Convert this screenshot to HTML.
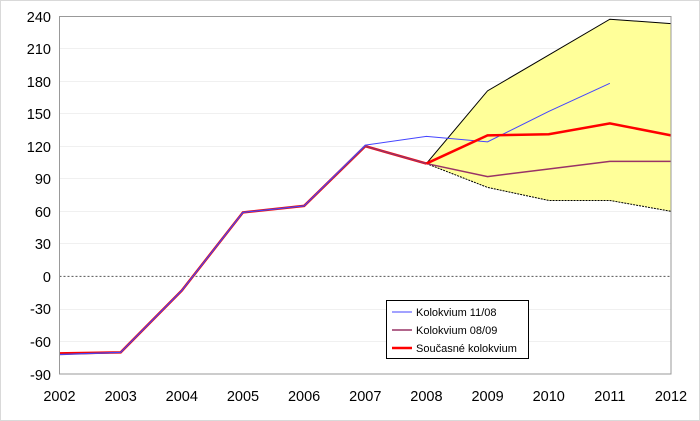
<!DOCTYPE html>
<html><head><meta charset="utf-8"><style>
html,body{margin:0;padding:0;background:#fff}
svg{display:block;font-family:"Liberation Sans",Arial,sans-serif}
</style></head><body>
<svg width="700" height="421" xmlns="http://www.w3.org/2000/svg">
<rect x="0.5" y="0.5" width="699" height="420" fill="#fff" stroke="#d9d9d9"/>
<g stroke="#f0f0f0" stroke-width="1">
<line x1="60" x2="671" y1="48.5" y2="48.5"/><line x1="60" x2="671" y1="81.5" y2="81.5"/>
<line x1="60" x2="671" y1="113.5" y2="113.5"/><line x1="60" x2="671" y1="146.5" y2="146.5"/>
<line x1="60" x2="671" y1="178.5" y2="178.5"/><line x1="60" x2="671" y1="211.5" y2="211.5"/>
<line x1="60" x2="671" y1="243.5" y2="243.5"/><line x1="60" x2="671" y1="309.5" y2="309.5"/>
<line x1="60" x2="671" y1="341.5" y2="341.5"/>
</g>
<g transform="translate(59.5,276.4) scale(61.15,-1.085)">
<polygon points="6,104 7,171 8,204 9,237 10,233 10,60 9,70 8,70 7,82" fill="#ffff99" stroke="none"/>
<polyline points="6,104 7,171 8,204 9,237 10,233" fill="none" stroke="#000" stroke-width="1" vector-effect="non-scaling-stroke"/>
<polyline points="6,104 7,82 8,70 9,70 10,60" fill="none" stroke="#000" stroke-width="1" stroke-dasharray="2,1" vector-effect="non-scaling-stroke"/>
<line x1="0" y1="0" x2="10" y2="0" stroke="#555" stroke-width="1" stroke-dasharray="2,2" vector-effect="non-scaling-stroke"/>
<line x1="0" y1="0" x2="0" y2="-71" stroke="#555" stroke-width="1" stroke-dasharray="2,2" vector-effect="non-scaling-stroke"/>
<line x1="10" y1="0" x2="10" y2="60" stroke="#555" stroke-width="1" stroke-dasharray="2,2" vector-effect="non-scaling-stroke"/>
<polyline points="0,-71 1,-70 2,-13 3,59 4,65 5,120 6,104" fill="none" stroke="#ff0000" stroke-width="2.5" vector-effect="non-scaling-stroke"/>
<polyline points="0,-72 1,-70 2,-13 3,59 4,65 5,120 6,104 7,92 8,99 9,106 10,106" fill="none" stroke="#993366" stroke-width="1.5" vector-effect="non-scaling-stroke"/>
<polyline points="0,-72 1,-70 2,-13 3,59 4,65 5,121 6,129 7,124 8,152 9,178" fill="none" stroke="#4444ff" stroke-width="1" vector-effect="non-scaling-stroke"/>
<polyline points="6,104 7,130 8,131 9,141 10,130" fill="none" stroke="#ff0000" stroke-width="2.5" vector-effect="non-scaling-stroke"/>
</g>
<rect x="59.5" y="16.5" width="611.5" height="357.5" fill="none" stroke="#999"/>
<g font-size="14.5" fill="#000" text-anchor="end">
<text x="51" y="22">240</text><text x="51" y="54">210</text><text x="51" y="87">180</text>
<text x="51" y="119">150</text><text x="51" y="152">120</text><text x="51" y="184">90</text>
<text x="51" y="217">60</text><text x="51" y="249">30</text><text x="51" y="282">0</text>
<text x="51" y="314">-30</text><text x="51" y="347">-60</text><text x="51" y="380">-90</text>
</g>
<g font-size="14.5" fill="#000" text-anchor="middle">
<text x="59.5" y="401">2002</text><text x="120.7" y="401">2003</text><text x="181.8" y="401">2004</text>
<text x="243" y="401">2005</text><text x="304.1" y="401">2006</text><text x="365.3" y="401">2007</text>
<text x="426.4" y="401">2008</text><text x="487.6" y="401">2009</text><text x="548.7" y="401">2010</text>
<text x="609.9" y="401">2011</text><text x="671" y="401">2012</text>
</g>
<rect x="386.5" y="300.5" width="142" height="58" fill="#fff" stroke="#000"/>
<line x1="392" x2="412" y1="312" y2="312" stroke="#4444ff" stroke-width="1"/>
<line x1="392" x2="412" y1="330" y2="330" stroke="#993366" stroke-width="1.5"/>
<line x1="392" x2="412" y1="348" y2="348" stroke="#ff0000" stroke-width="2.5"/>
<g font-size="11" fill="#000">
<text x="416" y="316">Kolokvium 11/08</text>
<text x="416" y="334">Kolokvium 08/09</text>
<text x="416" y="352">Současné kolokvium</text>
</g>
</svg>
</body></html>
